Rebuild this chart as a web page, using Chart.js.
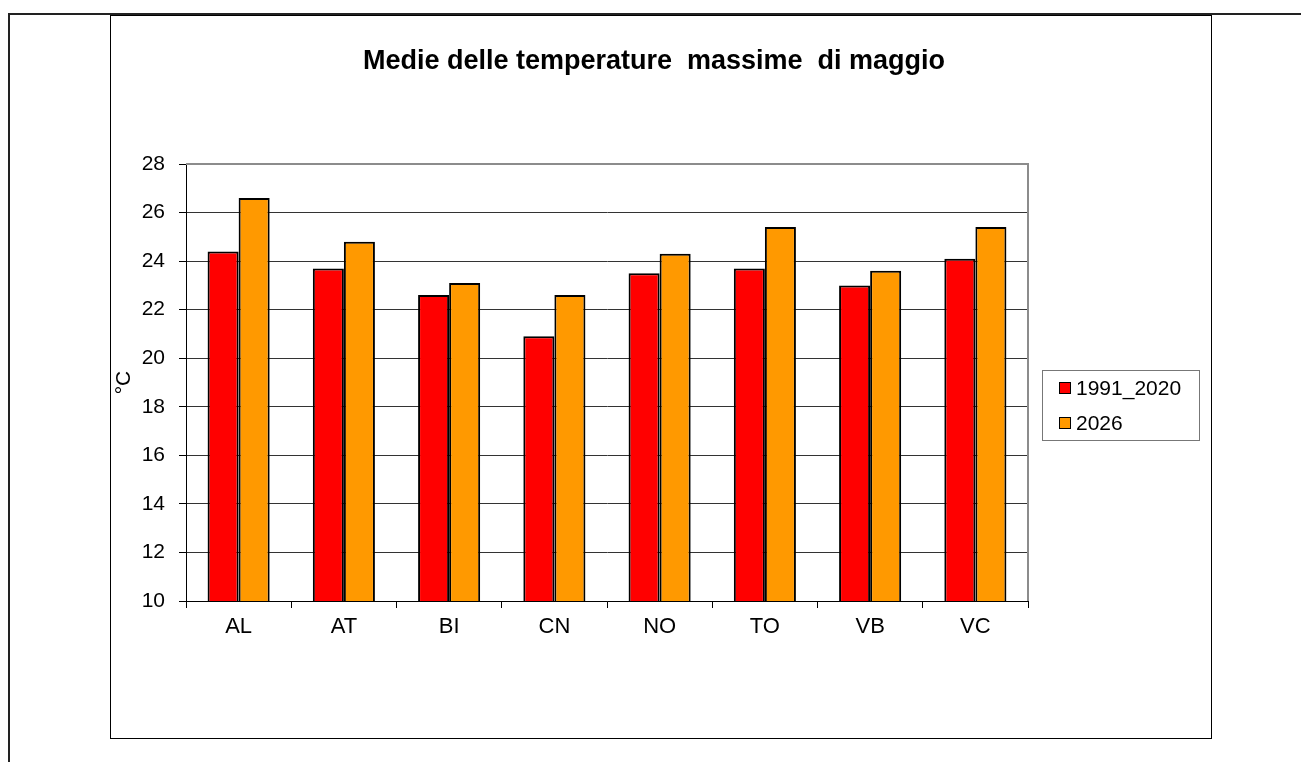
<html>
<head>
    <meta charset="utf-8"/>
    <title>Medie delle temperature massime di maggio</title>
    <script src="https://cdn.jsdelivr.net/npm/chart.js@4.4.1/dist/chart.umd.min.js"></script>
    <style>
        body { margin: 0; background: #fff; }
        #wrap { width: 1301px; height: 762px; }
    </style>
</head>
<body>
<div id="wrap"><canvas id="myChart" width="1301" height="762"></canvas></div>

<script>
    // province e valori
    var province = ['AL', 'AT', 'BI', 'CN', 'NO', 'TO', 'VB', 'VC'];
    var media_1991_2020 = [24.4, 23.7, 22.6, 20.9, 23.5, 23.7, 23.0, 24.1];
    var anno_2026 = [26.6, 24.8, 23.1, 22.6, 24.3, 25.4, 23.6, 25.4];
    var serie_labels = ['1991_2020', '2026'];
    var titolo = 'Medie delle temperature  massime  di maggio';
    var asse_y = '°C';

    var FONT = '"Liberation Sans", Arial, sans-serif';

    // cornici, titolo e legenda disegnati a mano
    var cornice = {
        id: 'cornice',
        beforeDraw: function (chart) {
            var c = chart.ctx;
            c.save();
            c.fillStyle = '#fff';
            c.fillRect(0, 0, chart.width, chart.height);
            c.strokeStyle = '#222';
            c.lineWidth = 2;
            c.beginPath();
            c.moveTo(9, 762);
            c.lineTo(9, 14);
            c.lineTo(1301, 14);
            c.stroke();
            c.lineWidth = 1;
            c.strokeStyle = '#000';
            c.strokeRect(110.5, 15.5, 1101, 723);
            c.restore();
        },
        afterDraw: function (chart) {
            var c = chart.ctx;
            var a = chart.chartArea;
            c.save();
            // bordo area grafico (sopra e destra)
            c.strokeStyle = '#8c8c8c';
            c.lineWidth = 2;
            c.beginPath();
            c.moveTo(a.left, a.top);
            c.lineTo(a.right, a.top);
            c.lineTo(a.right, a.bottom);
            c.stroke();

            // titolo
            c.fillStyle = '#000';
            c.font = 'bold 27px ' + FONT;
            c.textAlign = 'center';
            c.textBaseline = 'alphabetic';
            c.fillText(titolo, 654, 69);

            // legenda
            c.strokeStyle = '#777';
            c.lineWidth = 1;
            c.strokeRect(1042.5, 370.5, 157, 70);
            c.font = '21px ' + FONT;
            c.textAlign = 'left';
            chart.data.datasets.forEach(function (ds, i) {
                var y = 382 + i * 35;
                c.fillStyle = ds.backgroundColor;
                c.fillRect(1059, y, 12, 12);
                c.strokeStyle = '#000';
                c.strokeRect(1059.5, y + 0.5, 11, 11);
                c.fillStyle = '#000';
                c.fillText(ds.label, 1076, y + 13);
            });
            c.restore();
        }
    };

    var ctx = document.getElementById('myChart');
    var myChart = new Chart(ctx, {
        type: 'bar',
        data: {
            labels: province,
            datasets: [
                {label: serie_labels[0], data: media_1991_2020, backgroundColor: '#ff0000', borderColor: '#000', borderWidth: 2},
                {label: serie_labels[1], data: anno_2026, backgroundColor: '#ff9900', borderColor: '#000', borderWidth: 2}
            ]
        },
        options: {
            responsive: false,
            animation: false,
            categoryPercentage: 0.59,
            barPercentage: 1,
            layout: {
                padding: {left: 112, right: 273, top: 164, bottom: 121}
            },
            plugins: {
                legend: {display: false},
                title: {display: false},
                tooltip: {enabled: false}
            },
            scales: {
                x: {
                    afterFit: function (scale) { scale.height = 40; },
                    border: {color: '#000', width: 1},
                    grid: {offset: true, drawOnChartArea: false, drawTicks: true, tickLength: 7, color: '#000'},
                    ticks: {color: '#000', font: {family: FONT, size: 22}, padding: 6}
                },
                y: {
                    min: 10,
                    max: 28,
                    afterFit: function (scale) { scale.width = 74; },
                    border: {color: '#000', width: 1},
                    grid: {
                        tickLength: 7,
                        tickColor: '#000',
                        color: function (c) { return c.tick && c.tick.value === 28 ? '#8c8c8c' : '#333'; }
                    },
                    ticks: {stepSize: 2, color: '#000', font: {family: FONT, size: 21}, padding: 14},
                    title: {display: true, text: asse_y, color: '#000', font: {family: FONT, size: 21}, padding: {top: 0, bottom: 0}}
                }
            }
        },
        plugins: [cornice]
    });
</script>
</body>
</html>
